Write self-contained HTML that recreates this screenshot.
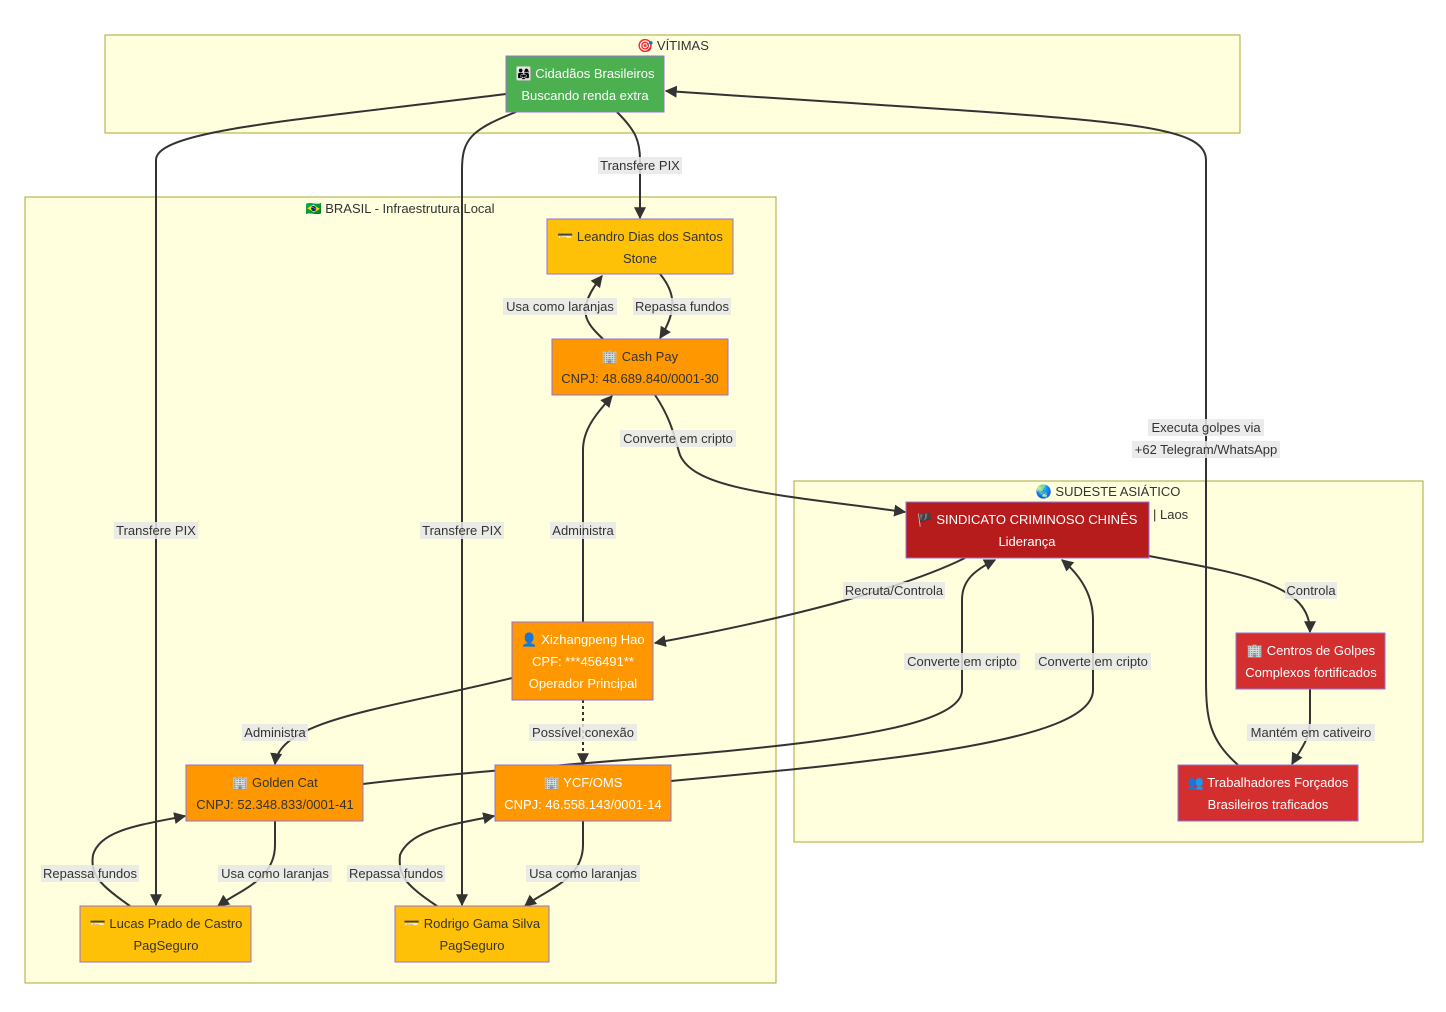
<!DOCTYPE html>
<html><head><meta charset="utf-8"><style>
body{margin:0;background:#fff;}
svg{display:block;font-family:"Liberation Sans","Noto Sans CJK SC",sans-serif;}
.cl{fill:#ffffde;stroke:#aaaa33;stroke-width:1}
.e{fill:none;stroke:#333;stroke-width:2}
.lb{fill:rgba(232,232,232,0.85)}
.lt{font-size:13px;fill:#333;text-anchor:middle}
.nt{font-size:13px;text-anchor:middle}
</style></head><body>
<svg width="1446" height="1012" viewBox="0 0 1446 1012">
<defs><marker id="a" viewBox="0 0 10 10" refX="9" refY="5" markerWidth="6" markerHeight="6" orient="auto"><path d="M0,0L10,5L0,10z" fill="#333"/></marker></defs>
<rect class="cl" x="105" y="35" width="1135" height="98"/>
<rect class="cl" x="25" y="197" width="751" height="786"/>
<rect class="cl" x="794" y="481" width="629" height="361"/>
<text x="673" y="50" class="lt">🎯 VÍTIMAS</text>
<text x="400" y="213" class="lt">🇧🇷 BRASIL - Infraestrutura Local</text>
<text x="1108" y="496" class="lt">🌏 SUDESTE ASIÁTICO</text>
<text x="1153" y="519" style="font-size:13px;fill:#333">| Laos</text>

<g>
<path class="e" d="M506,94 C300,120 156,130 156,160 L156,905" marker-end="url(#a)"/>
<path class="e" d="M516,112 C470,130 462,140 462,170 L462,905" marker-end="url(#a)"/>
<path class="e" d="M617,112 C635,130 640,140 640,160 L640,218" marker-end="url(#a)"/>
<path class="e" d="M1238,765 C1210,740 1206,720 1206,680 L1206,160 C1206,120 1100,120 666,91" marker-end="url(#a)"/>
<path class="e" d="M603,339 C585,322 575,310 602,276" marker-end="url(#a)"/>
<path class="e" d="M660,274 C675,292 678,310 660,338" marker-end="url(#a)"/>
<path class="e" d="M655,395 C672,420 675,440 680,455 C695,490 780,495 905,512" marker-end="url(#a)"/>
<path class="e" d="M583,622 L583,450 C583,430 595,415 612,396" marker-end="url(#a)"/>
<path class="e" d="M965,558 C900,590 780,620 655,643" marker-end="url(#a)"/>
<path class="e" d="M1149,556 C1250,575 1310,585 1310,632" marker-end="url(#a)"/>
<path class="e" d="M1310,689 L1310,720 C1310,740 1300,750 1292,764" marker-end="url(#a)"/>
<path class="e" d="M512,678 C380,710 280,720 275,764" marker-end="url(#a)"/>
<path class="e" d="M583,700 L583,764" stroke-dasharray="3,3" marker-end="url(#a)"/>
<path class="e" d="M363,784 C600,755 962,750 962,690 L962,600 C962,580 975,570 995,560" marker-end="url(#a)"/>
<path class="e" d="M671,781 C900,760 1093,740 1093,690 L1093,620 C1093,595 1080,575 1062,560" marker-end="url(#a)"/>
<path class="e" d="M275,821 L275,845 C275,880 240,890 218,906" marker-end="url(#a)"/>
<path class="e" d="M130,906 C100,885 90,875 93,855 C100,830 140,825 185,816" marker-end="url(#a)"/>
<path class="e" d="M583,821 L583,845 C583,880 545,890 525,906" marker-end="url(#a)"/>
<path class="e" d="M437,906 C405,885 398,875 400,855 C410,830 450,825 494,816" marker-end="url(#a)"/>
</g>

<g>
<rect class="lb" x="598" y="157" width="84" height="17"/><text x="640" y="170" class="lt">Transfere PIX</text>
<rect class="lb" x="114" y="522" width="84" height="17"/><text x="156" y="535" class="lt">Transfere PIX</text>
<rect class="lb" x="420" y="522" width="84" height="17"/><text x="462" y="535" class="lt">Transfere PIX</text>
<rect class="lb" x="550" y="522" width="66" height="17"/><text x="583" y="535" class="lt">Administra</text>
<rect class="lb" x="503" y="298" width="114" height="17"/><text x="560" y="311" class="lt">Usa como laranjas</text>
<rect class="lb" x="633" y="298" width="98" height="17"/><text x="682" y="311" class="lt">Repassa fundos</text>
<rect class="lb" x="620" y="430" width="116" height="17"/><text x="678" y="443" class="lt">Converte em cripto</text>
<rect class="lb" x="1148" y="419" width="116" height="17"/><text x="1206" y="432" class="lt">Executa golpes via</text>
<rect class="lb" x="1132" y="441" width="148" height="17"/><text x="1206" y="454" class="lt">+62 Telegram/WhatsApp</text>
<rect class="lb" x="843" y="582" width="102" height="17"/><text x="894" y="595" class="lt">Recruta/Controla</text>
<rect class="lb" x="1285" y="582" width="52" height="17"/><text x="1311" y="595" class="lt">Controla</text>
<rect class="lb" x="904" y="653" width="116" height="17"/><text x="962" y="666" class="lt">Converte em cripto</text>
<rect class="lb" x="1035" y="653" width="116" height="17"/><text x="1093" y="666" class="lt">Converte em cripto</text>
<rect class="lb" x="1247" y="724" width="128" height="17"/><text x="1311" y="737" class="lt">Mantém em cativeiro</text>
<rect class="lb" x="242" y="724" width="66" height="17"/><text x="275" y="737" class="lt">Administra</text>
<rect class="lb" x="529" y="724" width="108" height="17"/><text x="583" y="737" class="lt">Possível conexão</text>
<rect class="lb" x="41" y="865" width="98" height="17"/><text x="90" y="878" class="lt">Repassa fundos</text>
<rect class="lb" x="218" y="865" width="114" height="17"/><text x="275" y="878" class="lt">Usa como laranjas</text>
<rect class="lb" x="347" y="865" width="98" height="17"/><text x="396" y="878" class="lt">Repassa fundos</text>
<rect class="lb" x="526" y="865" width="114" height="17"/><text x="583" y="878" class="lt">Usa como laranjas</text>
</g>

<g stroke="#9370db" stroke-width="1">
<rect x="506" y="56" width="158" height="56" fill="#4caf50"/>
<rect x="547" y="219" width="186" height="55" fill="#ffc107"/>
<rect x="552" y="339" width="176" height="56" fill="#ff9800"/>
<rect x="906" y="502" width="243" height="56" fill="#b71c1c"/>
<rect x="512" y="622" width="141" height="78" fill="#ff9800"/>
<rect x="186" y="765" width="177" height="56" fill="#ff9800"/>
<rect x="495" y="765" width="176" height="56" fill="#ff9800"/>
<rect x="1236" y="633" width="149" height="56" fill="#d32f2f"/>
<rect x="1178" y="765" width="180" height="56" fill="#d32f2f"/>
<rect x="80" y="906" width="171" height="56" fill="#ffc107"/>
<rect x="395" y="906" width="154" height="56" fill="#ffc107"/>
</g>
<g class="nt">
<text x="585" y="78" fill="#fff" class="nt">👨‍👩‍👧 Cidadãos Brasileiros</text><text x="585" y="100" fill="#fff" class="nt">Buscando renda extra</text>
<text x="640" y="241" fill="#333" class="nt">💳 Leandro Dias dos Santos</text><text x="640" y="263" fill="#333" class="nt">Stone</text>
<text x="640" y="361" fill="#333" class="nt">🏢 Cash Pay</text><text x="640" y="383" fill="#333" class="nt">CNPJ: 48.689.840/0001-30</text>
<text x="1027" y="524" fill="#fff" class="nt">🏴 SINDICATO CRIMINOSO CHINÊS</text><text x="1027" y="546" fill="#fff" class="nt">Liderança</text>
<text x="583" y="644" fill="#fff" class="nt">👤 Xizhangpeng Hao</text><text x="583" y="666" fill="#fff" class="nt">CPF: ***456491**</text><text x="583" y="688" fill="#fff" class="nt">Operador Principal</text>
<text x="275" y="787" fill="#333" class="nt">🏢 Golden Cat</text><text x="275" y="809" fill="#333" class="nt">CNPJ: 52.348.833/0001-41</text>
<text x="583" y="787" fill="#fff" class="nt">🏢 YCF/OMS</text><text x="583" y="809" fill="#fff" class="nt">CNPJ: 46.558.143/0001-14</text>
<text x="1311" y="655" fill="#fff" class="nt">🏢 Centros de Golpes</text><text x="1311" y="677" fill="#fff" class="nt">Complexos fortificados</text>
<text x="1268" y="787" fill="#fff" class="nt">👥 Trabalhadores Forçados</text><text x="1268" y="809" fill="#fff" class="nt">Brasileiros traficados</text>
<text x="166" y="928" fill="#333" class="nt">💳 Lucas Prado de Castro</text><text x="166" y="950" fill="#333" class="nt">PagSeguro</text>
<text x="472" y="928" fill="#333" class="nt">💳 Rodrigo Gama Silva</text><text x="472" y="950" fill="#333" class="nt">PagSeguro</text>
</g>
</svg>
</body></html>
